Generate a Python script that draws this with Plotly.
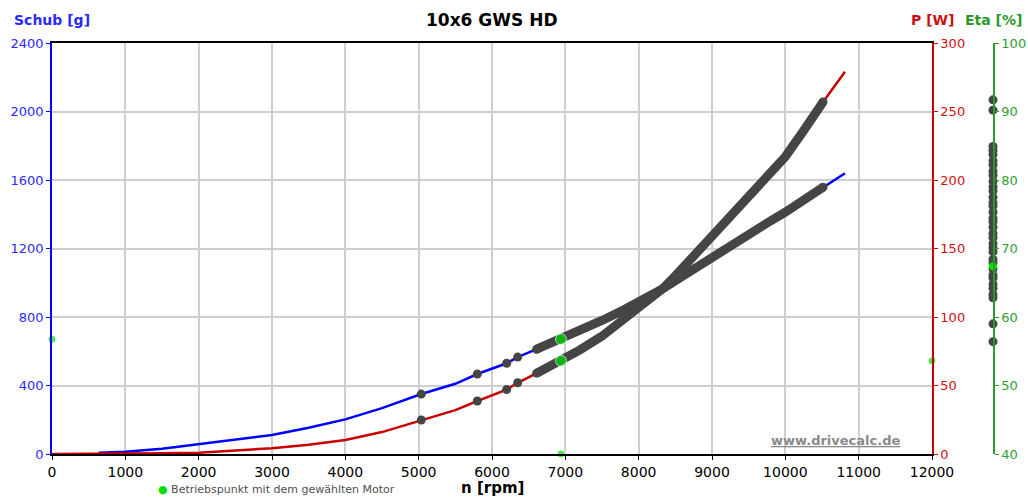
import plotly.graph_objects as go

# ---- data -------------------------------------------------------------
# propeller speed samples [rpm]
rpm = [0, 637, 1000, 1500, 2000, 2500, 3000, 3500, 4000, 4500, 5036, 5500, 5800,
       6200, 6350, 6609, 6941, 7200, 7500, 7800, 8000, 8336, 8500, 8800, 9000,
       9200, 9500, 9800, 10000, 10250, 10514, 10814]
# static thrust [g]
thrust = [None, 8, 13, 30, 56, 82, 111, 153, 202, 268, 350, 410, 467,
          530, 566, 612, 670, 722, 780, 842, 885, 967, 1012, 1095, 1152,
          1208, 1286, 1362, 1412, 1483, 1558, 1639]
# shaft power [W]
power = [0, 0, 0.2, 0.5, 1.0, 2.5, 4.2, 6.8, 10.2, 16, 24.8, 32, 38.7,
         47, 52, 59, 68, 76, 86, 98, 106, 121, 130, 147, 159,
         170, 188, 205, 217, 236, 257, 279]

# motor operating points found along the curves
single_points_rpm = [5036, 5800, 6200, 6350]
band_rpm_from, band_rpm_to = 6609, 10514
# efficiency of the matching motors [%]
eta_points = [56.4, 59.0, 62.8, 63.3, 64.2, 64.8, 65.7, 66.1, 67.0, 67.9, 68.4,
              69.5, 70.1, 70.7, 71.6, 72.2, 73.1, 73.9, 74.4, 75.3, 76.2, 76.7,
              77.5, 78.4, 79.0, 79.8, 80.7, 81.3, 82.2, 82.8, 83.7, 84.3, 84.9,
              90.2, 91.7]

# selected motor operating point
sel_rpm, sel_thrust, sel_power, sel_eta = 6941, 670, 68, 67.4

# axis ranges / ticks
rpm_range = [0, 12000]
thrust_range = [0, 2400]
power_range = [0, 300]
eta_range = [40, 100]

# ---- styling ----------------------------------------------------------
BLUE = "#0000ff"
RED = "#c80000"
GREEN_AX = "#2e9a2e"
DOT = "#454545"
SEL = "#00e000"
FONT = "DejaVu Sans"

W, H = 1028, 498
ML, MR, MT, MB = 52, 35, 43, 44
plot_w = W - ML - MR
x_dom_end = 880 / plot_w

fig = go.Figure()

# thrust and power curves
fig.add_trace(go.Scatter(x=rpm, y=thrust, mode="lines", yaxis="y",
                         line=dict(color=BLUE, width=2.5), connectgaps=False,
                         hoverinfo="skip"))
fig.add_trace(go.Scatter(x=rpm, y=power, mode="lines", yaxis="y2",
                         line=dict(color=RED, width=2.5), hoverinfo="skip"))

band_idx = [i for i, r in enumerate(rpm) if band_rpm_from <= r <= band_rpm_to]
single_idx = [rpm.index(r) for r in single_points_rpm]

for ys, ax in ((thrust, "y"), (power, "y2")):
    bx = [rpm[i] for i in band_idx]
    by = [ys[i] for i in band_idx]
    fig.add_trace(go.Scatter(x=bx, y=by, mode="lines", yaxis=ax,
                             line=dict(color=DOT, width=9),
                             hoverinfo="skip"))
    ex = [bx[0], bx[-1]] + [rpm[i] for i in single_idx]
    ey = [by[0], by[-1]] + [ys[i] for i in single_idx]
    fig.add_trace(go.Scatter(x=ex, y=ey, mode="markers", yaxis=ax,
                             marker=dict(color=DOT, size=9), hoverinfo="skip"))

# selected operating point on curves and axes
fig.add_trace(go.Scatter(x=[sel_rpm, rpm_range[0], sel_rpm], y=[sel_thrust, sel_thrust, 0],
                         mode="markers", yaxis="y", cliponaxis=False,
                         marker=dict(color=SEL, size=[11, 8, 8]), hoverinfo="skip"))
fig.add_trace(go.Scatter(x=[sel_rpm, rpm_range[1]], y=[sel_power, sel_power],
                         mode="markers", yaxis="y2", cliponaxis=False,
                         marker=dict(color=SEL, size=[11, 8]), hoverinfo="skip"))

# efficiency column on the eta axis
fig.add_trace(go.Scatter(x=[1] * len(eta_points), y=eta_points, mode="markers",
                         xaxis="x2", yaxis="y3", cliponaxis=False,
                         marker=dict(color=DOT, size=9), hoverinfo="skip"))
fig.add_trace(go.Scatter(x=[1], y=[sel_eta], mode="markers",
                         xaxis="x2", yaxis="y3", cliponaxis=False,
                         marker=dict(color=SEL, size=8), hoverinfo="skip"))

fig.update_layout(
    width=W, height=H,
    margin=dict(l=ML, r=MR, t=MT, b=MB, pad=0),
    paper_bgcolor="white", plot_bgcolor="rgba(0,0,0,0)",
    showlegend=False,
    font=dict(family=FONT, size=13, color="black"),
    xaxis=dict(domain=[0, x_dom_end], range=rpm_range, dtick=1000, tick0=0,
               tickformat="d",
               showgrid=True, gridcolor="#cfcfcf", gridwidth=1.5,
               showline=True, linecolor="black", linewidth=1.5, mirror=True,
               ticks="outside", ticklen=4, tickcolor="black",
               tickfont=dict(size=14, color="black"), zeroline=False,
               automargin=False, anchor="y"),
    yaxis=dict(range=thrust_range, dtick=400, tick0=0,
               showgrid=True, gridcolor="#cfcfcf", gridwidth=1.5,
               showline=True, linecolor=BLUE, linewidth=1.5,
               ticks="outside", ticklen=4, tickcolor=BLUE,
               tickfont=dict(size=13, color="#2a2aff"), zeroline=False,
               automargin=False, anchor="x"),
    yaxis2=dict(range=power_range, dtick=50, tick0=0, overlaying="y", side="right",
                anchor="x", showgrid=False, showline=True, linecolor=RED, linewidth=1.5,
                ticks="outside", ticklen=4, tickcolor=RED,
                tickfont=dict(size=13, color="#d01010"), zeroline=False,
                automargin=False),
    xaxis2=dict(domain=[0, 1], range=[0, 1], visible=False, anchor="y3",
                showgrid=False, zeroline=False),
    yaxis3=dict(range=eta_range, dtick=10, tick0=40, side="right", anchor="x2",
                showgrid=False, showline=True, linecolor=GREEN_AX, linewidth=1.5,
                ticks="outside", ticklen=4, tickcolor=GREEN_AX,
                tickfont=dict(size=13, color="#2fa02f"), zeroline=False,
                automargin=False),
)

ytop = 1 + (MT - 20) / (H - MT - MB)
annotations = [
    dict(text="<b>10x6 GWS HD</b>", xref="x domain", yref="paper", x=0.5, y=ytop,
         xanchor="center", yanchor="middle", showarrow=False,
         font=dict(size=17, color="black", family=FONT)),
    dict(text="<b>Schub [g]</b>", xref="paper", yref="paper", x=0, y=ytop,
         xanchor="center", yanchor="middle", showarrow=False,
         font=dict(size=14, color="#2a2aff", family=FONT)),
    dict(text="<b>P [W]</b>", xref="x domain", yref="paper", x=1, y=ytop,
         xanchor="center", yanchor="middle", showarrow=False,
         font=dict(size=14, color="#c81010", family=FONT)),
    dict(text="<b>Eta [%]</b>", xref="paper", yref="paper", x=1, y=ytop,
         xanchor="center", yanchor="middle", showarrow=False,
         font=dict(size=14, color="#2a9a2a", family=FONT)),
    dict(text="<b>n [rpm]</b>", xref="x domain", yref="paper", x=0.5,
         y=-(488 - (H - MB)) / (H - MT - MB),
         xanchor="center", yanchor="middle", showarrow=False,
         font=dict(size=15, color="black", family=FONT)),
    dict(text=f"<span style='color:{SEL}'>●</span> Betriebspunkt mit dem gewählten Motor",
         xref="paper", yref="paper", x=(156 - ML) / plot_w,
         y=-(489 - (H - MB)) / (H - MT - MB),
         xanchor="left", yanchor="middle", showarrow=False,
         font=dict(size=11, color="#505050", family=FONT)),
    dict(text="<b><span style='text-decoration:underline'>www.drivecalc.de</span></b>",
         xref="paper", yref="paper", x=(835 - ML) / plot_w,
         y=((H - MB) - 440) / (H - MT - MB),
         xanchor="center", yanchor="middle", showarrow=False,
         font=dict(size=13, color="#8a8a8a", family=FONT)),
]
fig.update_layout(annotations=annotations)

fig.write_html("out.html")
